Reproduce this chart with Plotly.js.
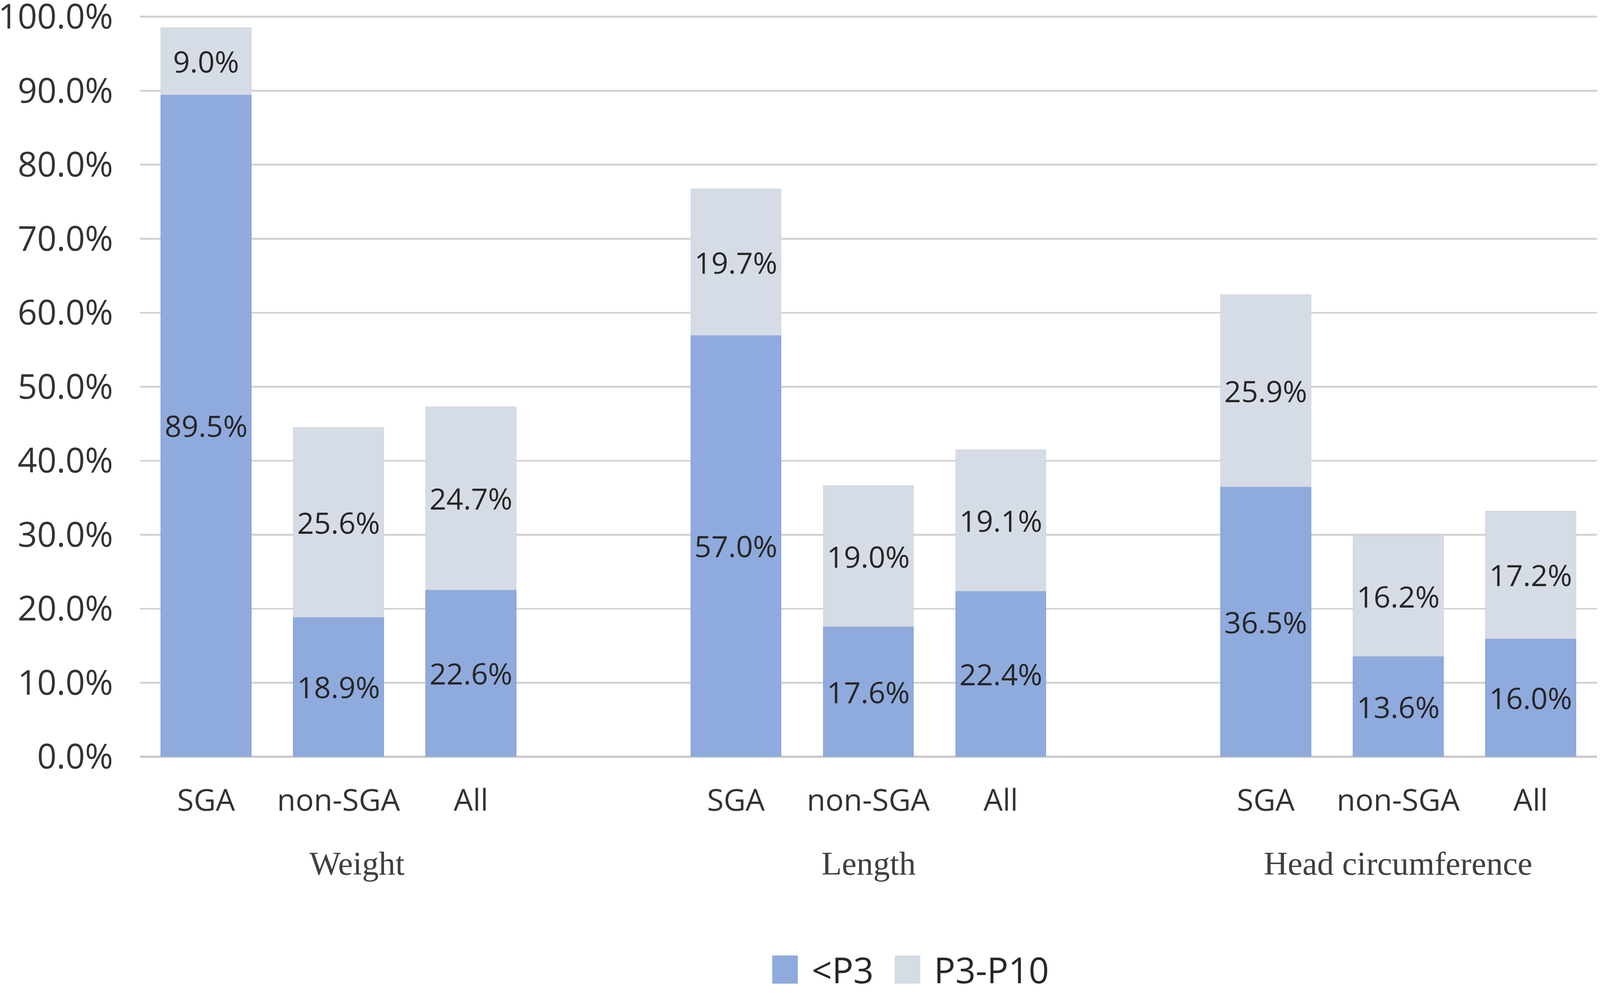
<!DOCTYPE html>
<html>
<head>
<meta charset="utf-8">
<script src="https://cdn.plot.ly/plotly-3.0.1.min.js"></script>
<style>
  html, body { margin: 0; padding: 0; background: #fff; overflow: hidden; }
  #chart { width: 100vw; height: 100vh; }
</style>
</head>
<body>
<div id="chart"></div>
<script>
// data
var groups = ['Weight', 'Length', 'Head circumference'];
var subgroups = ['SGA', 'non-SGA', 'All'];
var belowP3 = [89.5, 18.9, 22.6, 57.0, 17.6, 22.4, 36.5, 13.6, 16.0];
var p3toP10 = [9.0, 25.6, 24.7, 19.7, 19.0, 19.1, 25.9, 16.2, 17.2];
var seriesNames = ['<P3', 'P3-P10'];
var yTicks = [0, 10, 20, 30, 40, 50, 60, 70, 80, 90, 100];

// the reference is 4328 x 2543; scale to whatever the window really is
var W = window.innerWidth, H = window.innerHeight;
var kx = W / 4328, ky = H / 2543, k = Math.min(kx, ky);

// one empty slot between groups
var xPos = [], xText = [];
groups.forEach(function (g, gi) {
  subgroups.forEach(function (s, si) {
    xPos.push(gi * (subgroups.length + 1) + si);
    xText.push(s);
  });
});

var blue = '#8FAADC';
var grey = '#D6DCE5';
var labelFont = { family: 'Open Sans, sans-serif', size: 80 * k, color: '#262626' };

function pct(v) { return v.toFixed(1) + '%'; }

var traces = [
  {
    type: 'bar', name: seriesNames[0],
    x: xPos, y: belowP3,
    text: belowP3.map(pct),
    marker: { color: blue, line: { color: '#87A3D8', width: 2 * k } },
    width: 0.68
  },
  {
    type: 'bar', name: seriesNames[1],
    x: xPos, y: p3toP10,
    text: p3toP10.map(pct),
    marker: { color: grey, line: { color: '#D0D7E1', width: 2 * k } },
    width: 0.68
  }
];
traces.forEach(function (t) {
  t.textposition = 'inside';
  t.insidetextanchor = 'middle';
  t.textangle = 0;
  t.constraintext = 'none';
  t.textfont = labelFont;
  t.hoverinfo = 'skip';
  t.showlegend = false;
});

// group labels under the ticks
var annotations = groups.map(function (g, gi) {
  return {
    text: g,
    xref: 'x', yref: 'paper',
    x: gi * (subgroups.length + 1) + 1, y: -0.144,
    xshift: gi === 0 ? 50 * kx : 0,
    xanchor: 'center', yanchor: 'middle',
    showarrow: false,
    font: { family: 'Liberation Serif, serif', size: 90 * k, color: '#404040' }
  };
});

// legend drawn by hand so the swatches can be large
var legendX = [0.434, 0.518];
var legendY = -0.287;
var shapes = [];
[blue, grey].forEach(function (c, i) {
  shapes.push({
    type: 'rect', xref: 'paper', yref: 'paper',
    x0: legendX[i], x1: legendX[i] + 0.0176,
    y0: legendY + 0.019, y1: legendY - 0.019,
    fillcolor: c, line: { width: 0 }
  });
  annotations.push({
    text: seriesNames[i].replace('<', '&lt;'),
    xref: 'paper', yref: 'paper',
    x: legendX[i] + 0.0266, y: legendY,
    xanchor: 'left', yanchor: 'middle',
    showarrow: false,
    font: { family: 'Open Sans, sans-serif', size: 96 * k, color: '#262626' }
  });
});

var layout = {
  width: W,
  height: H,
  barmode: 'stack',
  showlegend: false,
  paper_bgcolor: '#fff',
  plot_bgcolor: '#fff',
  margin: { l: 378 * kx, r: 8 * kx, t: 39 * ky, b: 605 * ky, pad: 0 },
  font: { family: 'Open Sans, sans-serif', color: '#333' },
  xaxis: {
    range: [-0.5, 10.5],
    tickmode: 'array',
    tickvals: xPos,
    ticktext: xText,
    showgrid: false,
    zeroline: false,
    showline: false,
    ticks: 'outside',
    ticklen: 44 * ky,
    tickcolor: 'rgba(0,0,0,0)',
    tickfont: { family: 'Open Sans, sans-serif', size: 82 * k, color: '#333' }
  },
  yaxis: {
    range: [0, 100.2],
    tickmode: 'array',
    tickvals: yTicks,
    ticktext: yTicks.map(pct),
    showgrid: true,
    gridcolor: '#D2D2D2',
    gridwidth: 5 * k,
    zeroline: true,
    zerolinecolor: '#CDCDCD',
    zerolinewidth: 6 * k,
    showline: false,
    ticks: 'outside',
    ticklen: 53 * kx,
    tickcolor: 'rgba(0,0,0,0)',
    ticklabeloverflow: 'allow',
    tickfont: { family: 'Open Sans, sans-serif', size: 92 * k, color: '#333' }
  },
  annotations: annotations,
  shapes: shapes
};

Plotly.newPlot('chart', traces, layout, { staticPlot: true });
</script>
</body>
</html>
